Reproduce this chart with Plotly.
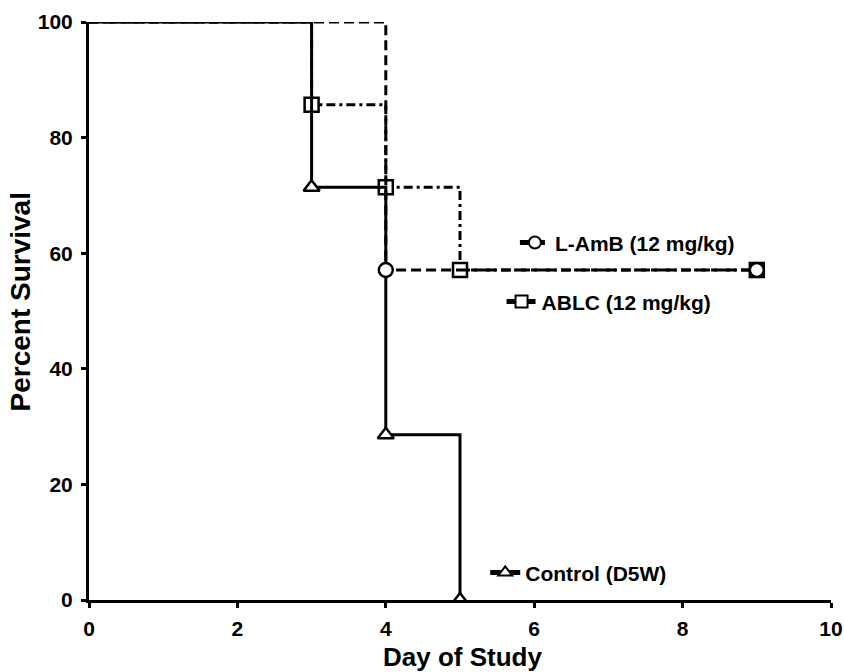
import plotly.graph_objects as go

# Data (Kaplan-Meier step points)
lamb_day = [0, 4, 9]
lamb_surv = [100, 57.1, 57.1]
lamb_marked = [1, 2]

ablc_day = [0, 3, 4, 5, 9]
ablc_surv = [100, 85.7, 71.4, 57.1, 57.1]
ablc_marked = [1, 2, 3, 4]

ctrl_day = [0, 3, 4, 5]
ctrl_surv = [100, 71.4, 28.6, 0]
ctrl_marked = [1, 2, 3]

x_ticks = [0, 2, 4, 6, 8, 10]
y_ticks = [0, 20, 40, 60, 80, 100]

names = ["L-AmB (12 mg/kg)", "ABLC (12 mg/kg)", "Control (D5W)"]
x_title = "Day of Study"
y_title = "Percent Survival"

FONT = "Liberation Sans, Arial, sans-serif"

fig = go.Figure()

def add(x, y, sel, name, symbol, dash, legend, clip):
    fig.add_trace(go.Scatter(
        x=x, y=y, name=name, mode="lines+markers",
        line=dict(shape="hv", color="black", width=3, dash=dash),
        marker=dict(symbol=symbol, size=14, color="white",
                    line=dict(color="black", width=2.5)),
        selectedpoints=sel,
        selected=dict(marker=dict(opacity=1)),
        unselected=dict(marker=dict(opacity=0)),
        legend=legend, cliponaxis=clip,
    ))

add(ablc_day, ablc_surv, ablc_marked, names[1], "square", "9px,4px,3px,4px", "legend2", False)
add(ctrl_day, ctrl_surv, ctrl_marked, names[2], "triangle-up", "solid", "legend3", True)
add(lamb_day, lamb_surv, lamb_marked, names[0], "circle", "10px,5px", "legend", False)

leg_common = dict(bgcolor="rgba(0,0,0,0)", borderwidth=0, itemwidth=30,
                  font=dict(family=FONT, size=21, color="black", weight="bold"),
                  xanchor="left", yanchor="middle", itemsizing="constant")

axis_common = dict(showgrid=False, zeroline=False, showline=True, linecolor="black",
                   linewidth=3, ticks="outside", ticklen=5, tickwidth=3, tickcolor="black",
                   automargin=False,
                   tickfont=dict(family=FONT, size=21, color="black", weight="bold"))

fig.update_layout(
    width=844, height=672,
    margin=dict(l=89, r=13, t=22, b=72),
    plot_bgcolor="white", paper_bgcolor="white",
    showlegend=True,
    legend=dict(x=0.574, y=0.618, **leg_common),
    legend2=dict(x=0.556, y=0.516, **leg_common),
    legend3=dict(x=0.534, y=0.047, **leg_common),
    xaxis=dict(range=[0, 10], tickvals=x_ticks, ticktext=[str(v) for v in x_ticks],
               ticklabelstandoff=3, **axis_common),
    yaxis=dict(range=[0, 100], tickvals=y_ticks, ticktext=[str(v) for v in y_ticks],
               ticklabelstandoff=4, **axis_common),
    annotations=[
        dict(text=x_title, xref="paper", yref="paper", x=0.503, y=-0.099,
             xanchor="center", yanchor="middle", showarrow=False,
             font=dict(family=FONT, size=26, color="black", weight="bold")),
        dict(text=y_title, xref="paper", yref="paper", x=-0.092, y=0.516,
             xanchor="center", yanchor="middle", showarrow=False, textangle=-90,
             font=dict(family=FONT, size=28, color="black", weight="bold")),
    ],
)

fig.write_html("out.html", config={"displayModeBar": False},
               post_script="document.body.style.margin='0';document.body.style.padding='0';")
